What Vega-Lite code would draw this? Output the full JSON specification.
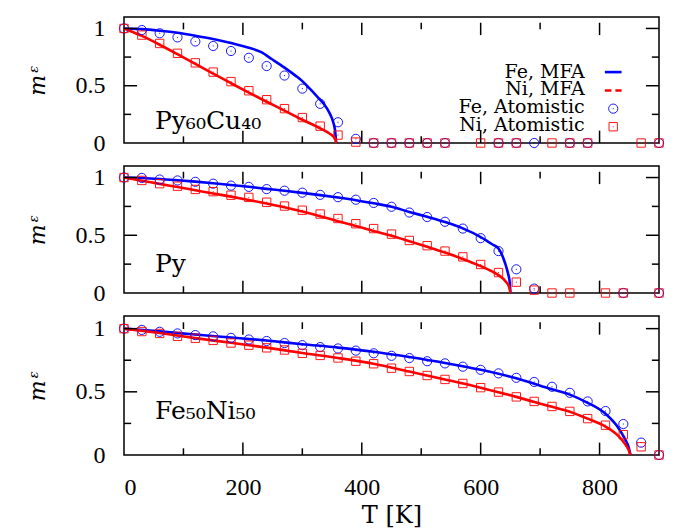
{
"$schema":"https://vega.github.io/schema/vega-lite/v6.json",
"padding":{"left":25,"top":15,"right":5,"bottom":0},
"spacing":23,
"bounds":"flush",
"datasets":{
"xmaj":[{"T":200},{"T":400},{"T":600},{"T":800}],
"xmin":[{"T":100},{"T":300},{"T":500},{"T":700}],
"ymaj":[{"m":0.5},{"m":1}],
"ymin":[{"m":0.25},{"m":0.75}],
"mfa":[
{"alloy":"Py60Cu40","series":"Fe, MFA","T":0,"m":1},{"alloy":"Py60Cu40","series":"Fe, MFA","T":30,"m":0.994},{"alloy":"Py60Cu40","series":"Fe, MFA","T":60,"m":0.98},{"alloy":"Py60Cu40","series":"Fe, MFA","T":90,"m":0.962},{"alloy":"Py60Cu40","series":"Fe, MFA","T":120,"m":0.937},{"alloy":"Py60Cu40","series":"Fe, MFA","T":150,"m":0.908},{"alloy":"Py60Cu40","series":"Fe, MFA","T":180,"m":0.873},{"alloy":"Py60Cu40","series":"Fe, MFA","T":210,"m":0.832},{"alloy":"Py60Cu40","series":"Fe, MFA","T":230,"m":0.795},{"alloy":"Py60Cu40","series":"Fe, MFA","T":249,"m":0.731},{"alloy":"Py60Cu40","series":"Fe, MFA","T":270,"m":0.658},{"alloy":"Py60Cu40","series":"Fe, MFA","T":289,"m":0.586},{"alloy":"Py60Cu40","series":"Fe, MFA","T":300,"m":0.54},{"alloy":"Py60Cu40","series":"Fe, MFA","T":313,"m":0.472},{"alloy":"Py60Cu40","series":"Fe, MFA","T":325,"m":0.405},{"alloy":"Py60Cu40","series":"Fe, MFA","T":336,"m":0.342},{"alloy":"Py60Cu40","series":"Fe, MFA","T":345,"m":0.27},{"alloy":"Py60Cu40","series":"Fe, MFA","T":352,"m":0.181},{"alloy":"Py60Cu40","series":"Fe, MFA","T":355,"m":0.11},{"alloy":"Py60Cu40","series":"Fe, MFA","T":357,"m":0},
{"alloy":"Py60Cu40","series":"Ni, MFA","T":0,"m":1},{"alloy":"Py60Cu40","series":"Ni, MFA","T":30,"m":0.935},{"alloy":"Py60Cu40","series":"Ni, MFA","T":60,"m":0.858},{"alloy":"Py60Cu40","series":"Ni, MFA","T":90,"m":0.775},{"alloy":"Py60Cu40","series":"Ni, MFA","T":120,"m":0.69},{"alloy":"Py60Cu40","series":"Ni, MFA","T":150,"m":0.605},{"alloy":"Py60Cu40","series":"Ni, MFA","T":180,"m":0.522},{"alloy":"Py60Cu40","series":"Ni, MFA","T":210,"m":0.44},{"alloy":"Py60Cu40","series":"Ni, MFA","T":240,"m":0.36},{"alloy":"Py60Cu40","series":"Ni, MFA","T":270,"m":0.283},{"alloy":"Py60Cu40","series":"Ni, MFA","T":300,"m":0.203},{"alloy":"Py60Cu40","series":"Ni, MFA","T":330,"m":0.128},{"alloy":"Py60Cu40","series":"Ni, MFA","T":345,"m":0.085},{"alloy":"Py60Cu40","series":"Ni, MFA","T":355,"m":0.04},{"alloy":"Py60Cu40","series":"Ni, MFA","T":357,"m":0},
{"alloy":"Py","series":"Fe, MFA","T":0,"m":1},{"alloy":"Py","series":"Fe, MFA","T":30,"m":0.996},{"alloy":"Py","series":"Fe, MFA","T":60,"m":0.988},{"alloy":"Py","series":"Fe, MFA","T":90,"m":0.977},{"alloy":"Py","series":"Fe, MFA","T":120,"m":0.965},{"alloy":"Py","series":"Fe, MFA","T":150,"m":0.951},{"alloy":"Py","series":"Fe, MFA","T":180,"m":0.936},{"alloy":"Py","series":"Fe, MFA","T":210,"m":0.92},{"alloy":"Py","series":"Fe, MFA","T":240,"m":0.902},{"alloy":"Py","series":"Fe, MFA","T":270,"m":0.885},{"alloy":"Py","series":"Fe, MFA","T":300,"m":0.867},{"alloy":"Py","series":"Fe, MFA","T":330,"m":0.848},{"alloy":"Py","series":"Fe, MFA","T":360,"m":0.827},{"alloy":"Py","series":"Fe, MFA","T":390,"m":0.804},{"alloy":"Py","series":"Fe, MFA","T":420,"m":0.777},{"alloy":"Py","series":"Fe, MFA","T":450,"m":0.747},{"alloy":"Py","series":"Fe, MFA","T":480,"m":0.702},{"alloy":"Py","series":"Fe, MFA","T":510,"m":0.66},{"alloy":"Py","series":"Fe, MFA","T":540,"m":0.615},{"alloy":"Py","series":"Fe, MFA","T":570,"m":0.56},{"alloy":"Py","series":"Fe, MFA","T":600,"m":0.485},{"alloy":"Py","series":"Fe, MFA","T":620,"m":0.42},{"alloy":"Py","series":"Fe, MFA","T":630,"m":0.385},{"alloy":"Py","series":"Fe, MFA","T":641,"m":0.26},{"alloy":"Py","series":"Fe, MFA","T":646,"m":0.17},{"alloy":"Py","series":"Fe, MFA","T":649,"m":0.09},{"alloy":"Py","series":"Fe, MFA","T":650,"m":0},
{"alloy":"Py","series":"Ni, MFA","T":0,"m":1},{"alloy":"Py","series":"Ni, MFA","T":30,"m":0.973},{"alloy":"Py","series":"Ni, MFA","T":60,"m":0.945},{"alloy":"Py","series":"Ni, MFA","T":90,"m":0.918},{"alloy":"Py","series":"Ni, MFA","T":120,"m":0.89},{"alloy":"Py","series":"Ni, MFA","T":150,"m":0.862},{"alloy":"Py","series":"Ni, MFA","T":180,"m":0.835},{"alloy":"Py","series":"Ni, MFA","T":210,"m":0.806},{"alloy":"Py","series":"Ni, MFA","T":240,"m":0.775},{"alloy":"Py","series":"Ni, MFA","T":270,"m":0.742},{"alloy":"Py","series":"Ni, MFA","T":300,"m":0.705},{"alloy":"Py","series":"Ni, MFA","T":330,"m":0.665},{"alloy":"Py","series":"Ni, MFA","T":360,"m":0.622},{"alloy":"Py","series":"Ni, MFA","T":390,"m":0.58},{"alloy":"Py","series":"Ni, MFA","T":420,"m":0.538},{"alloy":"Py","series":"Ni, MFA","T":450,"m":0.495},{"alloy":"Py","series":"Ni, MFA","T":480,"m":0.448},{"alloy":"Py","series":"Ni, MFA","T":510,"m":0.4},{"alloy":"Py","series":"Ni, MFA","T":540,"m":0.35},{"alloy":"Py","series":"Ni, MFA","T":570,"m":0.295},{"alloy":"Py","series":"Ni, MFA","T":600,"m":0.233},{"alloy":"Py","series":"Ni, MFA","T":620,"m":0.185},{"alloy":"Py","series":"Ni, MFA","T":630,"m":0.155},{"alloy":"Py","series":"Ni, MFA","T":642,"m":0.1},{"alloy":"Py","series":"Ni, MFA","T":648,"m":0.05},{"alloy":"Py","series":"Ni, MFA","T":650,"m":0},
{"alloy":"Fe50Ni50","series":"Fe, MFA","T":0,"m":1},{"alloy":"Fe50Ni50","series":"Fe, MFA","T":60,"m":0.978},{"alloy":"Fe50Ni50","series":"Fe, MFA","T":120,"m":0.953},{"alloy":"Fe50Ni50","series":"Fe, MFA","T":180,"m":0.93},{"alloy":"Fe50Ni50","series":"Fe, MFA","T":240,"m":0.906},{"alloy":"Fe50Ni50","series":"Fe, MFA","T":300,"m":0.877},{"alloy":"Fe50Ni50","series":"Fe, MFA","T":360,"m":0.85},{"alloy":"Fe50Ni50","series":"Fe, MFA","T":420,"m":0.817},{"alloy":"Fe50Ni50","series":"Fe, MFA","T":480,"m":0.775},{"alloy":"Fe50Ni50","series":"Fe, MFA","T":540,"m":0.728},{"alloy":"Fe50Ni50","series":"Fe, MFA","T":600,"m":0.674},{"alloy":"Fe50Ni50","series":"Fe, MFA","T":660,"m":0.607},{"alloy":"Fe50Ni50","series":"Fe, MFA","T":720,"m":0.52},{"alloy":"Fe50Ni50","series":"Fe, MFA","T":750,"m":0.478},{"alloy":"Fe50Ni50","series":"Fe, MFA","T":780,"m":0.413},{"alloy":"Fe50Ni50","series":"Fe, MFA","T":810,"m":0.326},{"alloy":"Fe50Ni50","series":"Fe, MFA","T":832,"m":0.212},{"alloy":"Fe50Ni50","series":"Fe, MFA","T":843,"m":0.124},{"alloy":"Fe50Ni50","series":"Fe, MFA","T":849,"m":0.06},{"alloy":"Fe50Ni50","series":"Fe, MFA","T":852,"m":0},
{"alloy":"Fe50Ni50","series":"Ni, MFA","T":0,"m":1},{"alloy":"Fe50Ni50","series":"Ni, MFA","T":60,"m":0.965},{"alloy":"Fe50Ni50","series":"Ni, MFA","T":120,"m":0.925},{"alloy":"Fe50Ni50","series":"Ni, MFA","T":180,"m":0.888},{"alloy":"Fe50Ni50","series":"Ni, MFA","T":240,"m":0.85},{"alloy":"Fe50Ni50","series":"Ni, MFA","T":300,"m":0.807},{"alloy":"Fe50Ni50","series":"Ni, MFA","T":360,"m":0.768},{"alloy":"Fe50Ni50","series":"Ni, MFA","T":420,"m":0.722},{"alloy":"Fe50Ni50","series":"Ni, MFA","T":480,"m":0.66},{"alloy":"Fe50Ni50","series":"Ni, MFA","T":540,"m":0.598},{"alloy":"Fe50Ni50","series":"Ni, MFA","T":600,"m":0.533},{"alloy":"Fe50Ni50","series":"Ni, MFA","T":660,"m":0.46},{"alloy":"Fe50Ni50","series":"Ni, MFA","T":720,"m":0.381},{"alloy":"Fe50Ni50","series":"Ni, MFA","T":750,"m":0.343},{"alloy":"Fe50Ni50","series":"Ni, MFA","T":780,"m":0.288},{"alloy":"Fe50Ni50","series":"Ni, MFA","T":810,"m":0.225},{"alloy":"Fe50Ni50","series":"Ni, MFA","T":832,"m":0.149},{"alloy":"Fe50Ni50","series":"Ni, MFA","T":843,"m":0.086},{"alloy":"Fe50Ni50","series":"Ni, MFA","T":849,"m":0.04},{"alloy":"Fe50Ni50","series":"Ni, MFA","T":852,"m":0}
],
"atom":[
{"alloy":"Py60Cu40","series":"Fe, Atomistic","T":0,"m":1},{"alloy":"Py60Cu40","series":"Fe, Atomistic","T":30,"m":0.986},{"alloy":"Py60Cu40","series":"Fe, Atomistic","T":60,"m":0.958},{"alloy":"Py60Cu40","series":"Fe, Atomistic","T":90,"m":0.922},{"alloy":"Py60Cu40","series":"Fe, Atomistic","T":120,"m":0.886},{"alloy":"Py60Cu40","series":"Fe, Atomistic","T":150,"m":0.847},{"alloy":"Py60Cu40","series":"Fe, Atomistic","T":180,"m":0.803},{"alloy":"Py60Cu40","series":"Fe, Atomistic","T":210,"m":0.744},{"alloy":"Py60Cu40","series":"Fe, Atomistic","T":240,"m":0.672},{"alloy":"Py60Cu40","series":"Fe, Atomistic","T":270,"m":0.589},{"alloy":"Py60Cu40","series":"Fe, Atomistic","T":300,"m":0.475},{"alloy":"Py60Cu40","series":"Fe, Atomistic","T":330,"m":0.342},{"alloy":"Py60Cu40","series":"Fe, Atomistic","T":360,"m":0.181},{"alloy":"Py60Cu40","series":"Fe, Atomistic","T":390,"m":0.036},{"alloy":"Py60Cu40","series":"Fe, Atomistic","T":420,"m":0},{"alloy":"Py60Cu40","series":"Fe, Atomistic","T":450,"m":0},{"alloy":"Py60Cu40","series":"Fe, Atomistic","T":480,"m":0},{"alloy":"Py60Cu40","series":"Fe, Atomistic","T":510,"m":0},{"alloy":"Py60Cu40","series":"Fe, Atomistic","T":540,"m":0},{"alloy":"Py60Cu40","series":"Fe, Atomistic","T":630,"m":0},{"alloy":"Py60Cu40","series":"Fe, Atomistic","T":660,"m":0},{"alloy":"Py60Cu40","series":"Fe, Atomistic","T":690,"m":0},{"alloy":"Py60Cu40","series":"Fe, Atomistic","T":750,"m":0},{"alloy":"Py60Cu40","series":"Fe, Atomistic","T":780,"m":0},{"alloy":"Py60Cu40","series":"Fe, Atomistic","T":900,"m":0},
{"alloy":"Py60Cu40","series":"Ni, Atomistic","T":0,"m":1},{"alloy":"Py60Cu40","series":"Ni, Atomistic","T":30,"m":0.942},{"alloy":"Py60Cu40","series":"Ni, Atomistic","T":60,"m":0.869},{"alloy":"Py60Cu40","series":"Ni, Atomistic","T":90,"m":0.783},{"alloy":"Py60Cu40","series":"Ni, Atomistic","T":120,"m":0.7},{"alloy":"Py60Cu40","series":"Ni, Atomistic","T":150,"m":0.619},{"alloy":"Py60Cu40","series":"Ni, Atomistic","T":180,"m":0.536},{"alloy":"Py60Cu40","series":"Ni, Atomistic","T":210,"m":0.456},{"alloy":"Py60Cu40","series":"Ni, Atomistic","T":240,"m":0.378},{"alloy":"Py60Cu40","series":"Ni, Atomistic","T":270,"m":0.3},{"alloy":"Py60Cu40","series":"Ni, Atomistic","T":300,"m":0.222},{"alloy":"Py60Cu40","series":"Ni, Atomistic","T":330,"m":0.147},{"alloy":"Py60Cu40","series":"Ni, Atomistic","T":360,"m":0.069},{"alloy":"Py60Cu40","series":"Ni, Atomistic","T":390,"m":0.008},{"alloy":"Py60Cu40","series":"Ni, Atomistic","T":420,"m":0},{"alloy":"Py60Cu40","series":"Ni, Atomistic","T":450,"m":0},{"alloy":"Py60Cu40","series":"Ni, Atomistic","T":480,"m":0},{"alloy":"Py60Cu40","series":"Ni, Atomistic","T":510,"m":0},{"alloy":"Py60Cu40","series":"Ni, Atomistic","T":540,"m":0},{"alloy":"Py60Cu40","series":"Ni, Atomistic","T":600,"m":0},{"alloy":"Py60Cu40","series":"Ni, Atomistic","T":630,"m":0},{"alloy":"Py60Cu40","series":"Ni, Atomistic","T":660,"m":0},{"alloy":"Py60Cu40","series":"Ni, Atomistic","T":720,"m":0},{"alloy":"Py60Cu40","series":"Ni, Atomistic","T":750,"m":0},{"alloy":"Py60Cu40","series":"Ni, Atomistic","T":780,"m":0},{"alloy":"Py60Cu40","series":"Ni, Atomistic","T":870,"m":0},{"alloy":"Py60Cu40","series":"Ni, Atomistic","T":900,"m":0},
{"alloy":"Py","series":"Fe, Atomistic","T":0,"m":1},{"alloy":"Py","series":"Fe, Atomistic","T":30,"m":0.997},{"alloy":"Py","series":"Fe, Atomistic","T":60,"m":0.983},{"alloy":"Py","series":"Fe, Atomistic","T":90,"m":0.975},{"alloy":"Py","series":"Fe, Atomistic","T":120,"m":0.963},{"alloy":"Py","series":"Fe, Atomistic","T":150,"m":0.947},{"alloy":"Py","series":"Fe, Atomistic","T":180,"m":0.93},{"alloy":"Py","series":"Fe, Atomistic","T":210,"m":0.919},{"alloy":"Py","series":"Fe, Atomistic","T":240,"m":0.9},{"alloy":"Py","series":"Fe, Atomistic","T":270,"m":0.886},{"alloy":"Py","series":"Fe, Atomistic","T":300,"m":0.869},{"alloy":"Py","series":"Fe, Atomistic","T":330,"m":0.85},{"alloy":"Py","series":"Fe, Atomistic","T":360,"m":0.83},{"alloy":"Py","series":"Fe, Atomistic","T":390,"m":0.808},{"alloy":"Py","series":"Fe, Atomistic","T":420,"m":0.78},{"alloy":"Py","series":"Fe, Atomistic","T":450,"m":0.747},{"alloy":"Py","series":"Fe, Atomistic","T":480,"m":0.697},{"alloy":"Py","series":"Fe, Atomistic","T":510,"m":0.658},{"alloy":"Py","series":"Fe, Atomistic","T":540,"m":0.617},{"alloy":"Py","series":"Fe, Atomistic","T":570,"m":0.558},{"alloy":"Py","series":"Fe, Atomistic","T":600,"m":0.475},{"alloy":"Py","series":"Fe, Atomistic","T":630,"m":0.363},{"alloy":"Py","series":"Fe, Atomistic","T":660,"m":0.205},{"alloy":"Py","series":"Fe, Atomistic","T":690,"m":0.038},{"alloy":"Py","series":"Fe, Atomistic","T":840,"m":0},{"alloy":"Py","series":"Fe, Atomistic","T":900,"m":0},
{"alloy":"Py","series":"Ni, Atomistic","T":0,"m":1},{"alloy":"Py","series":"Ni, Atomistic","T":30,"m":0.975},{"alloy":"Py","series":"Ni, Atomistic","T":60,"m":0.947},{"alloy":"Py","series":"Ni, Atomistic","T":90,"m":0.925},{"alloy":"Py","series":"Ni, Atomistic","T":120,"m":0.897},{"alloy":"Py","series":"Ni, Atomistic","T":150,"m":0.878},{"alloy":"Py","series":"Ni, Atomistic","T":180,"m":0.847},{"alloy":"Py","series":"Ni, Atomistic","T":210,"m":0.828},{"alloy":"Py","series":"Ni, Atomistic","T":240,"m":0.786},{"alloy":"Py","series":"Ni, Atomistic","T":270,"m":0.753},{"alloy":"Py","series":"Ni, Atomistic","T":300,"m":0.717},{"alloy":"Py","series":"Ni, Atomistic","T":330,"m":0.684},{"alloy":"Py","series":"Ni, Atomistic","T":360,"m":0.645},{"alloy":"Py","series":"Ni, Atomistic","T":390,"m":0.6},{"alloy":"Py","series":"Ni, Atomistic","T":420,"m":0.558},{"alloy":"Py","series":"Ni, Atomistic","T":450,"m":0.51},{"alloy":"Py","series":"Ni, Atomistic","T":480,"m":0.455},{"alloy":"Py","series":"Ni, Atomistic","T":510,"m":0.41},{"alloy":"Py","series":"Ni, Atomistic","T":540,"m":0.363},{"alloy":"Py","series":"Ni, Atomistic","T":570,"m":0.313},{"alloy":"Py","series":"Ni, Atomistic","T":600,"m":0.247},{"alloy":"Py","series":"Ni, Atomistic","T":630,"m":0.177},{"alloy":"Py","series":"Ni, Atomistic","T":660,"m":0.094},{"alloy":"Py","series":"Ni, Atomistic","T":690,"m":0.025},{"alloy":"Py","series":"Ni, Atomistic","T":720,"m":0},{"alloy":"Py","series":"Ni, Atomistic","T":750,"m":0},{"alloy":"Py","series":"Ni, Atomistic","T":810,"m":0},{"alloy":"Py","series":"Ni, Atomistic","T":840,"m":0},{"alloy":"Py","series":"Ni, Atomistic","T":900,"m":0},
{"alloy":"Fe50Ni50","series":"Fe, Atomistic","T":0,"m":1},{"alloy":"Fe50Ni50","series":"Fe, Atomistic","T":30,"m":0.99},{"alloy":"Fe50Ni50","series":"Fe, Atomistic","T":60,"m":0.975},{"alloy":"Fe50Ni50","series":"Fe, Atomistic","T":90,"m":0.962},{"alloy":"Fe50Ni50","series":"Fe, Atomistic","T":120,"m":0.949},{"alloy":"Fe50Ni50","series":"Fe, Atomistic","T":150,"m":0.939},{"alloy":"Fe50Ni50","series":"Fe, Atomistic","T":180,"m":0.927},{"alloy":"Fe50Ni50","series":"Fe, Atomistic","T":210,"m":0.914},{"alloy":"Fe50Ni50","series":"Fe, Atomistic","T":240,"m":0.902},{"alloy":"Fe50Ni50","series":"Fe, Atomistic","T":270,"m":0.886},{"alloy":"Fe50Ni50","series":"Fe, Atomistic","T":300,"m":0.869},{"alloy":"Fe50Ni50","series":"Fe, Atomistic","T":330,"m":0.854},{"alloy":"Fe50Ni50","series":"Fe, Atomistic","T":360,"m":0.843},{"alloy":"Fe50Ni50","series":"Fe, Atomistic","T":390,"m":0.826},{"alloy":"Fe50Ni50","series":"Fe, Atomistic","T":420,"m":0.805},{"alloy":"Fe50Ni50","series":"Fe, Atomistic","T":450,"m":0.785},{"alloy":"Fe50Ni50","series":"Fe, Atomistic","T":480,"m":0.767},{"alloy":"Fe50Ni50","series":"Fe, Atomistic","T":510,"m":0.742},{"alloy":"Fe50Ni50","series":"Fe, Atomistic","T":540,"m":0.725},{"alloy":"Fe50Ni50","series":"Fe, Atomistic","T":570,"m":0.699},{"alloy":"Fe50Ni50","series":"Fe, Atomistic","T":600,"m":0.674},{"alloy":"Fe50Ni50","series":"Fe, Atomistic","T":630,"m":0.646},{"alloy":"Fe50Ni50","series":"Fe, Atomistic","T":660,"m":0.611},{"alloy":"Fe50Ni50","series":"Fe, Atomistic","T":690,"m":0.578},{"alloy":"Fe50Ni50","series":"Fe, Atomistic","T":720,"m":0.54},{"alloy":"Fe50Ni50","series":"Fe, Atomistic","T":750,"m":0.492},{"alloy":"Fe50Ni50","series":"Fe, Atomistic","T":780,"m":0.424},{"alloy":"Fe50Ni50","series":"Fe, Atomistic","T":810,"m":0.348},{"alloy":"Fe50Ni50","series":"Fe, Atomistic","T":840,"m":0.245},{"alloy":"Fe50Ni50","series":"Fe, Atomistic","T":870,"m":0.098},{"alloy":"Fe50Ni50","series":"Fe, Atomistic","T":900,"m":0},
{"alloy":"Fe50Ni50","series":"Ni, Atomistic","T":0,"m":1},{"alloy":"Fe50Ni50","series":"Ni, Atomistic","T":30,"m":0.977},{"alloy":"Fe50Ni50","series":"Ni, Atomistic","T":60,"m":0.962},{"alloy":"Fe50Ni50","series":"Ni, Atomistic","T":90,"m":0.939},{"alloy":"Fe50Ni50","series":"Ni, Atomistic","T":120,"m":0.924},{"alloy":"Fe50Ni50","series":"Ni, Atomistic","T":150,"m":0.907},{"alloy":"Fe50Ni50","series":"Ni, Atomistic","T":180,"m":0.886},{"alloy":"Fe50Ni50","series":"Ni, Atomistic","T":210,"m":0.869},{"alloy":"Fe50Ni50","series":"Ni, Atomistic","T":240,"m":0.848},{"alloy":"Fe50Ni50","series":"Ni, Atomistic","T":270,"m":0.831},{"alloy":"Fe50Ni50","series":"Ni, Atomistic","T":300,"m":0.805},{"alloy":"Fe50Ni50","series":"Ni, Atomistic","T":330,"m":0.788},{"alloy":"Fe50Ni50","series":"Ni, Atomistic","T":360,"m":0.768},{"alloy":"Fe50Ni50","series":"Ni, Atomistic","T":390,"m":0.742},{"alloy":"Fe50Ni50","series":"Ni, Atomistic","T":420,"m":0.722},{"alloy":"Fe50Ni50","series":"Ni, Atomistic","T":450,"m":0.687},{"alloy":"Fe50Ni50","series":"Ni, Atomistic","T":480,"m":0.661},{"alloy":"Fe50Ni50","series":"Ni, Atomistic","T":510,"m":0.629},{"alloy":"Fe50Ni50","series":"Ni, Atomistic","T":540,"m":0.598},{"alloy":"Fe50Ni50","series":"Ni, Atomistic","T":570,"m":0.566},{"alloy":"Fe50Ni50","series":"Ni, Atomistic","T":600,"m":0.533},{"alloy":"Fe50Ni50","series":"Ni, Atomistic","T":630,"m":0.498},{"alloy":"Fe50Ni50","series":"Ni, Atomistic","T":660,"m":0.46},{"alloy":"Fe50Ni50","series":"Ni, Atomistic","T":690,"m":0.424},{"alloy":"Fe50Ni50","series":"Ni, Atomistic","T":720,"m":0.384},{"alloy":"Fe50Ni50","series":"Ni, Atomistic","T":750,"m":0.345},{"alloy":"Fe50Ni50","series":"Ni, Atomistic","T":780,"m":0.288},{"alloy":"Fe50Ni50","series":"Ni, Atomistic","T":810,"m":0.236},{"alloy":"Fe50Ni50","series":"Ni, Atomistic","T":840,"m":0.161},{"alloy":"Fe50Ni50","series":"Ni, Atomistic","T":870,"m":0.065},{"alloy":"Fe50Ni50","series":"Ni, Atomistic","T":900,"m":0}
]},
"vconcat":[
{"width":535,"height":126,
 "layer":[
  {"data":{"name":"mfa"},"transform":[{"filter":"datum.alloy === 'Py60Cu40'"}],
   "mark":{"type":"line","strokeWidth":2.6,"interpolate":"monotone"},
   "encoding":{
    "x":{"field":"T","type":"quantitative","scale":{"domain":[0,900]},"axis":{"values":[0,200,400,600,800],"labels":false,"ticks":false,"title":null}},
    "y":{"field":"m","type":"quantitative","scale":{"domain":[0,1.05]},"axis":{"values":[0,0.5,1],"format":"~g","title":"mᵋ","labelPadding":19,"ticks":false}},
    "color":{"field":"series","type":"nominal","scale":{"domain":["Fe, MFA","Ni, MFA","Fe, Atomistic","Ni, Atomistic"],"range":["#0000ff","#ff0000","#0000ff","#ff0000"]},"legend":null}}},
  {"data":{"name":"atom"},"transform":[{"filter":"datum.alloy === 'Py60Cu40'"}],
   "mark":{"type":"point","filled":false,"size":280,"strokeWidth":1,"opacity":0.9},
   "encoding":{
    "x":{"field":"T","type":"quantitative"},
    "y":{"field":"m","type":"quantitative"},
    "color":{"field":"series","type":"nominal","legend":null},
    "shape":{"field":"series","type":"nominal","scale":{"domain":["Fe, Atomistic","Ni, Atomistic"],"range":["M-0.55,0A0.55,0.55 0 1,0 0.55,0A0.55,0.55 0 1,0 -0.55,0Z M0,-0.06V0.06","M-0.5,-0.5H0.5V0.5H-0.5Z M0,-0.06V0.06"]},"legend":null}}},
  {"data":{"values":[{}]},"mark":{"type":"text","font":"DejaVu Serif","fontSize":25,"align":"left","baseline":"alphabetic"},
   "encoding":{"x":{"datum":52,"type":"quantitative"},"y":{"datum":0.12,"type":"quantitative"},"text":{"value":"Py₆₀Cu₄₀"}}},
  {"data":{"values":[{}]},"mark":{"type":"text","font":"DejaVu Serif","fontSize":19,"align":"right","baseline":"alphabetic"},
   "encoding":{"x":{"datum":775,"type":"quantitative"},"y":{"datum":0.564,"type":"quantitative"},"text":{"value":"Fe, MFA"}}},
  {"data":{"values":[{}]},"mark":{"type":"text","font":"DejaVu Serif","fontSize":19,"align":"right","baseline":"alphabetic"},
   "encoding":{"x":{"datum":775,"type":"quantitative"},"y":{"datum":0.417,"type":"quantitative"},"text":{"value":"Ni, MFA"}}},
  {"data":{"values":[{}]},"mark":{"type":"text","font":"DejaVu Serif","fontSize":19,"align":"right","baseline":"alphabetic"},
   "encoding":{"x":{"datum":775,"type":"quantitative"},"y":{"datum":0.258,"type":"quantitative"},"text":{"value":"Fe, Atomistic"}}},
  {"data":{"values":[{}]},"mark":{"type":"text","font":"DejaVu Serif","fontSize":19,"align":"right","baseline":"alphabetic"},
   "encoding":{"x":{"datum":775,"type":"quantitative"},"y":{"datum":0.106,"type":"quantitative"},"text":{"value":"Ni, Atomistic"}}},
  {"data":{"values":[{}]},"mark":{"type":"rule","color":"#0000ff","strokeWidth":2.6},
   "encoding":{"x":{"datum":809,"type":"quantitative"},"x2":{"datum":837},"y":{"datum":0.619,"type":"quantitative"}}},
  {"data":{"values":[{}]},"mark":{"type":"rule","color":"#ff0000","strokeWidth":2.6,"strokeDash":[6.5,4]},
   "encoding":{"x":{"datum":809,"type":"quantitative"},"x2":{"datum":837},"y":{"datum":0.458,"type":"quantitative"}}},
  {"data":{"values":[{}]},"mark":{"type":"point","filled":false,"size":280,"strokeWidth":1,"opacity":0.9,"color":"#0000ff","shape":"M-0.55,0A0.55,0.55 0 1,0 0.55,0A0.55,0.55 0 1,0 -0.55,0Z M0,-0.06V0.06"},
   "encoding":{"x":{"datum":823,"type":"quantitative"},"y":{"datum":0.3,"type":"quantitative"}}},
  {"data":{"values":[{}]},"mark":{"type":"point","filled":false,"size":280,"strokeWidth":1,"opacity":0.9,"color":"#ff0000","shape":"M-0.5,-0.5H0.5V0.5H-0.5Z M0,-0.06V0.06"},
   "encoding":{"x":{"datum":823,"type":"quantitative"},"y":{"datum":0.142,"type":"quantitative"}}},
  {"data":{"name":"xmaj"},"mark":{"type":"rule","color":"black","strokeWidth":1.5},"encoding":{"x":{"field":"T","type":"quantitative"},"y":{"datum":0,"type":"quantitative"},"y2":{"datum":0.108}}},
  {"data":{"name":"xmaj"},"mark":{"type":"rule","color":"black","strokeWidth":1.5},"encoding":{"x":{"field":"T","type":"quantitative"},"y":{"datum":1.05,"type":"quantitative"},"y2":{"datum":0.942}}},
  {"data":{"name":"xmin"},"mark":{"type":"rule","color":"black","strokeWidth":1.5},"encoding":{"x":{"field":"T","type":"quantitative"},"y":{"datum":0,"type":"quantitative"},"y2":{"datum":0.058}}},
  {"data":{"name":"xmin"},"mark":{"type":"rule","color":"black","strokeWidth":1.5},"encoding":{"x":{"field":"T","type":"quantitative"},"y":{"datum":1.05,"type":"quantitative"},"y2":{"datum":0.992}}},
  {"data":{"name":"ymaj"},"mark":{"type":"rule","color":"black","strokeWidth":1.5},"encoding":{"y":{"field":"m","type":"quantitative"},"x":{"datum":0,"type":"quantitative"},"x2":{"datum":22}}},
  {"data":{"name":"ymaj"},"mark":{"type":"rule","color":"black","strokeWidth":1.5},"encoding":{"y":{"field":"m","type":"quantitative"},"x":{"datum":900,"type":"quantitative"},"x2":{"datum":878}}},
  {"data":{"name":"ymin"},"mark":{"type":"rule","color":"black","strokeWidth":1.5},"encoding":{"y":{"field":"m","type":"quantitative"},"x":{"datum":0,"type":"quantitative"},"x2":{"datum":12}}},
  {"data":{"name":"ymin"},"mark":{"type":"rule","color":"black","strokeWidth":1.5},"encoding":{"y":{"field":"m","type":"quantitative"},"x":{"datum":900,"type":"quantitative"},"x2":{"datum":888}}}
 ]},
{"width":535,"height":127,
 "layer":[
  {"data":{"name":"mfa"},"transform":[{"filter":"datum.alloy === 'Py'"}],
   "mark":{"type":"line","strokeWidth":2.6,"interpolate":"monotone"},
   "encoding":{
    "x":{"field":"T","type":"quantitative","scale":{"domain":[0,900]},"axis":{"values":[0,200,400,600,800],"labels":false,"ticks":false,"title":null}},
    "y":{"field":"m","type":"quantitative","scale":{"domain":[0,1.05]},"axis":{"values":[0,0.5,1],"format":"~g","title":"mᵋ","labelPadding":19,"ticks":false}},
    "color":{"field":"series","type":"nominal","scale":{"domain":["Fe, MFA","Ni, MFA","Fe, Atomistic","Ni, Atomistic"],"range":["#0000ff","#ff0000","#0000ff","#ff0000"]},"legend":null}}},
  {"data":{"name":"atom"},"transform":[{"filter":"datum.alloy === 'Py'"}],
   "mark":{"type":"point","filled":false,"size":280,"strokeWidth":1,"opacity":0.9},
   "encoding":{
    "x":{"field":"T","type":"quantitative"},
    "y":{"field":"m","type":"quantitative"},
    "color":{"field":"series","type":"nominal","legend":null},
    "shape":{"field":"series","type":"nominal","scale":{"domain":["Fe, Atomistic","Ni, Atomistic"],"range":["M-0.55,0A0.55,0.55 0 1,0 0.55,0A0.55,0.55 0 1,0 -0.55,0Z M0,-0.06V0.06","M-0.5,-0.5H0.5V0.5H-0.5Z M0,-0.06V0.06"]},"legend":null}}},
  {"data":{"values":[{}]},"mark":{"type":"text","font":"DejaVu Serif","fontSize":25,"align":"left","baseline":"alphabetic"},
   "encoding":{"x":{"datum":52,"type":"quantitative"},"y":{"datum":0.178,"type":"quantitative"},"text":{"value":"Py"}}},
  {"data":{"name":"xmaj"},"mark":{"type":"rule","color":"black","strokeWidth":1.5},"encoding":{"x":{"field":"T","type":"quantitative"},"y":{"datum":0,"type":"quantitative"},"y2":{"datum":0.107}}},
  {"data":{"name":"xmaj"},"mark":{"type":"rule","color":"black","strokeWidth":1.5},"encoding":{"x":{"field":"T","type":"quantitative"},"y":{"datum":1.05,"type":"quantitative"},"y2":{"datum":0.943}}},
  {"data":{"name":"xmin"},"mark":{"type":"rule","color":"black","strokeWidth":1.5},"encoding":{"x":{"field":"T","type":"quantitative"},"y":{"datum":0,"type":"quantitative"},"y2":{"datum":0.058}}},
  {"data":{"name":"xmin"},"mark":{"type":"rule","color":"black","strokeWidth":1.5},"encoding":{"x":{"field":"T","type":"quantitative"},"y":{"datum":1.05,"type":"quantitative"},"y2":{"datum":0.992}}},
  {"data":{"name":"ymaj"},"mark":{"type":"rule","color":"black","strokeWidth":1.5},"encoding":{"y":{"field":"m","type":"quantitative"},"x":{"datum":0,"type":"quantitative"},"x2":{"datum":22}}},
  {"data":{"name":"ymaj"},"mark":{"type":"rule","color":"black","strokeWidth":1.5},"encoding":{"y":{"field":"m","type":"quantitative"},"x":{"datum":900,"type":"quantitative"},"x2":{"datum":878}}},
  {"data":{"name":"ymin"},"mark":{"type":"rule","color":"black","strokeWidth":1.5},"encoding":{"y":{"field":"m","type":"quantitative"},"x":{"datum":0,"type":"quantitative"},"x2":{"datum":12}}},
  {"data":{"name":"ymin"},"mark":{"type":"rule","color":"black","strokeWidth":1.5},"encoding":{"y":{"field":"m","type":"quantitative"},"x":{"datum":900,"type":"quantitative"},"x2":{"datum":888}}}
 ]},
{"width":535,"height":139,
 "layer":[
  {"data":{"name":"mfa"},"transform":[{"filter":"datum.alloy === 'Fe50Ni50'"}],
   "mark":{"type":"line","strokeWidth":2.6,"interpolate":"monotone"},
   "encoding":{
    "x":{"field":"T","type":"quantitative","scale":{"domain":[0,900]},"axis":{"values":[0,200,400,600,800],"format":"d","title":"T [K]","titleFont":"DejaVu Serif","titleFontSize":24,"labelPadding":20,"titlePadding":4,"ticks":false}},
    "y":{"field":"m","type":"quantitative","scale":{"domain":[0,1.05]},"axis":{"values":[0,0.5,1],"format":"~g","title":"mᵋ","labelPadding":19,"ticks":false}},
    "color":{"field":"series","type":"nominal","scale":{"domain":["Fe, MFA","Ni, MFA","Fe, Atomistic","Ni, Atomistic"],"range":["#0000ff","#ff0000","#0000ff","#ff0000"]},"legend":null}}},
  {"data":{"name":"atom"},"transform":[{"filter":"datum.alloy === 'Fe50Ni50'"}],
   "mark":{"type":"point","filled":false,"size":280,"strokeWidth":1,"opacity":0.9},
   "encoding":{
    "x":{"field":"T","type":"quantitative"},
    "y":{"field":"m","type":"quantitative"},
    "color":{"field":"series","type":"nominal","legend":null},
    "shape":{"field":"series","type":"nominal","scale":{"domain":["Fe, Atomistic","Ni, Atomistic"],"range":["M-0.55,0A0.55,0.55 0 1,0 0.55,0A0.55,0.55 0 1,0 -0.55,0Z M0,-0.06V0.06","M-0.5,-0.5H0.5V0.5H-0.5Z M0,-0.06V0.06"]},"legend":null}}},
  {"data":{"values":[{}]},"mark":{"type":"text","font":"DejaVu Serif","fontSize":25,"align":"left","baseline":"alphabetic"},
   "encoding":{"x":{"datum":52,"type":"quantitative"},"y":{"datum":0.288,"type":"quantitative"},"text":{"value":"Fe₅₀Ni₅₀"}}},
  {"data":{"name":"xmaj"},"mark":{"type":"rule","color":"black","strokeWidth":1.5},"encoding":{"x":{"field":"T","type":"quantitative"},"y":{"datum":0,"type":"quantitative"},"y2":{"datum":0.098}}},
  {"data":{"name":"xmaj"},"mark":{"type":"rule","color":"black","strokeWidth":1.5},"encoding":{"x":{"field":"T","type":"quantitative"},"y":{"datum":1.05,"type":"quantitative"},"y2":{"datum":0.952}}},
  {"data":{"name":"xmin"},"mark":{"type":"rule","color":"black","strokeWidth":1.5},"encoding":{"x":{"field":"T","type":"quantitative"},"y":{"datum":0,"type":"quantitative"},"y2":{"datum":0.053}}},
  {"data":{"name":"xmin"},"mark":{"type":"rule","color":"black","strokeWidth":1.5},"encoding":{"x":{"field":"T","type":"quantitative"},"y":{"datum":1.05,"type":"quantitative"},"y2":{"datum":0.997}}},
  {"data":{"name":"ymaj"},"mark":{"type":"rule","color":"black","strokeWidth":1.5},"encoding":{"y":{"field":"m","type":"quantitative"},"x":{"datum":0,"type":"quantitative"},"x2":{"datum":22}}},
  {"data":{"name":"ymaj"},"mark":{"type":"rule","color":"black","strokeWidth":1.5},"encoding":{"y":{"field":"m","type":"quantitative"},"x":{"datum":900,"type":"quantitative"},"x2":{"datum":878}}},
  {"data":{"name":"ymin"},"mark":{"type":"rule","color":"black","strokeWidth":1.5},"encoding":{"y":{"field":"m","type":"quantitative"},"x":{"datum":0,"type":"quantitative"},"x2":{"datum":12}}},
  {"data":{"name":"ymin"},"mark":{"type":"rule","color":"black","strokeWidth":1.5},"encoding":{"y":{"field":"m","type":"quantitative"},"x":{"datum":900,"type":"quantitative"},"x2":{"datum":888}}}
 ]}
],
"resolve":{"scale":{"color":"independent","shape":"independent"}},
"config":{
 "font":"Liberation Serif",
 "view":{"stroke":"black","strokeWidth":1.5},
 "text":{"font":"DejaVu Serif","color":"black"},
 "axis":{"labelFont":"Liberation Serif","labelFontSize":24,"labelColor":"black","titleFont":"DejaVu Serif","titleFontSize":22,"titleFontStyle":"italic","titleFontWeight":"normal","titleColor":"black","titlePadding":26,"grid":false,"domain":false},
 "axisBottom":{"titleFontStyle":"normal"}
}
}
